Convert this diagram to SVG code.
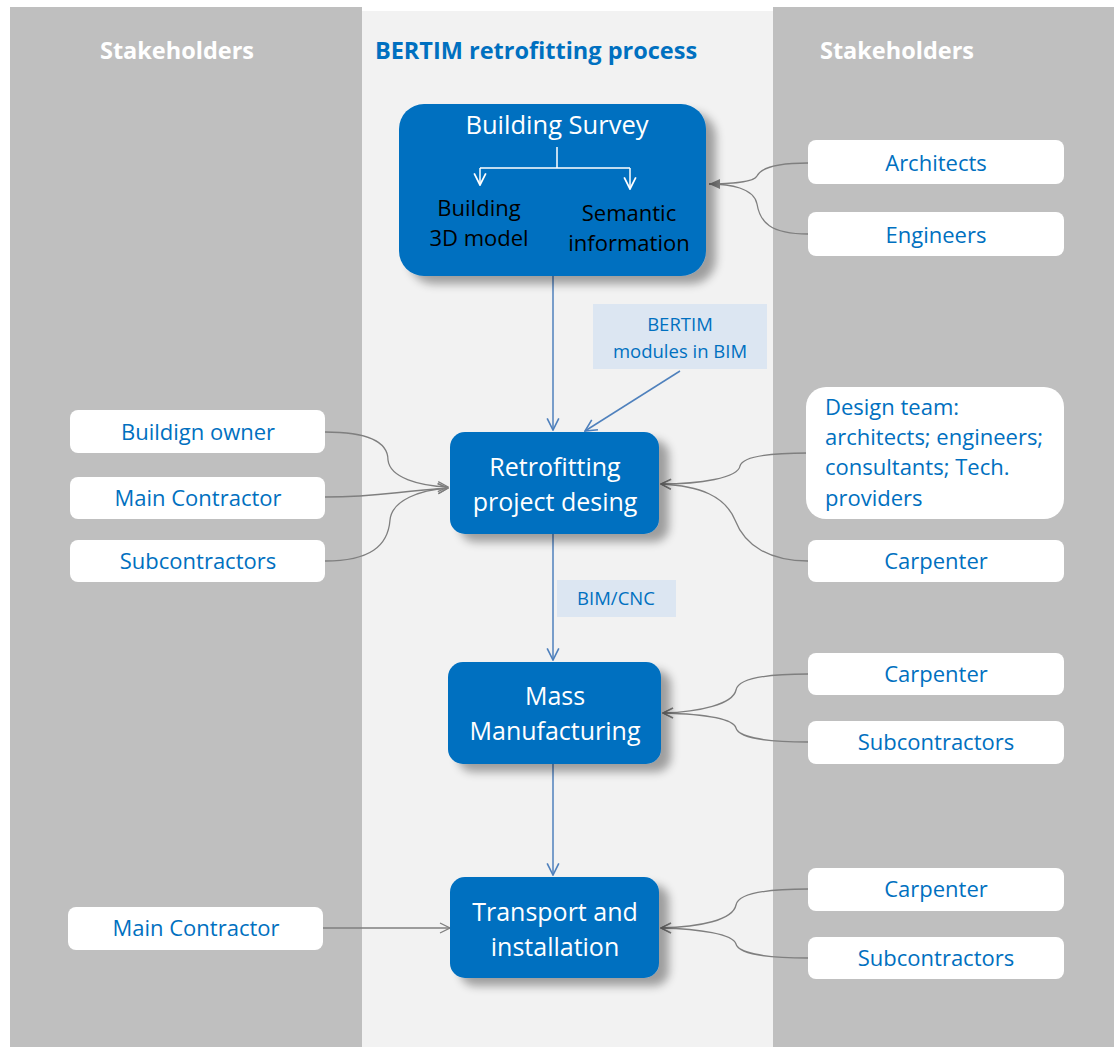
<svg xmlns="http://www.w3.org/2000/svg" width="1114" height="1047" viewBox="0 0 1114 1047">
<defs>
<style>
.col{fill:#bfbfbf}
.mid{fill:#f2f2f2}
.hd{font-family:"Open Sans","Liberation Sans",sans-serif;font-weight:bold;font-size:23.5px;text-anchor:middle}
.proc{fill:#0070c0}
.pt{font-family:"Open Sans","Liberation Sans",sans-serif;font-size:25px;fill:#fff;text-anchor:middle}
.sub{font-family:"Open Sans","Liberation Sans",sans-serif;font-size:22px;fill:#000;text-anchor:middle}
.st{fill:#fff}
.stt{font-family:"Open Sans","Liberation Sans",sans-serif;font-size:22px;fill:#0070c0;text-anchor:middle}
.lbl{fill:#dce6f2}
.lt{font-family:"Open Sans","Liberation Sans",sans-serif;font-size:18.5px;fill:#0070c0;text-anchor:middle}
.gc{fill:none;stroke:#7f7f7f;stroke-width:1.3}
.bc{fill:none;stroke:#4f81bd;stroke-width:1.5}
</style>
<marker id="ga" viewBox="0 0 12 12" refX="11" refY="6" markerWidth="12" markerHeight="12" markerUnits="userSpaceOnUse" orient="auto">
<path d="M1,1 L11,6 L1,11" fill="none" stroke="#7f7f7f" stroke-width="1.3"/>
</marker>
<marker id="gf" viewBox="0 0 12 12" refX="11" refY="6" markerWidth="12" markerHeight="12" markerUnits="userSpaceOnUse" orient="auto">
<path d="M0,1 L11,6 L0,11 Z" fill="#7f7f7f"/>
</marker>
<marker id="ba" viewBox="0 0 12 12" refX="11" refY="6" markerWidth="14" markerHeight="14" markerUnits="userSpaceOnUse" orient="auto">
<path d="M1,1 L11,6 L1,11" fill="none" stroke="#4f81bd" stroke-width="1.4"/>
</marker>
<marker id="wa" viewBox="0 0 12 12" refX="11" refY="6" markerWidth="14" markerHeight="14" markerUnits="userSpaceOnUse" orient="auto">
<path d="M1,1 L11,6 L1,11" fill="none" stroke="#fff" stroke-width="1.5"/>
</marker>
<filter id="sh" x="-20%" y="-20%" width="150%" height="160%">
<feGaussianBlur in="SourceAlpha" stdDeviation="5"/>
<feOffset dx="10" dy="8" result="b"/>
<feComponentTransfer><feFuncA type="linear" slope="0.35"/></feComponentTransfer>
<feMerge><feMergeNode/><feMergeNode in="SourceGraphic"/></feMerge>
</filter>
</defs>
<rect width="1114" height="1047" fill="#fff"/>
<g id="background">
<rect class="col" x="10" y="7" width="352" height="1040"/>
<rect class="mid" x="362" y="11" width="411" height="1036"/>
<rect class="col" x="773" y="7" width="341" height="1040"/>
<text class="hd" x="177" y="59" fill="#fff">Stakeholders</text>
<text class="hd" x="536" y="59" fill="#0070c0">BERTIM retrofitting process</text>
<text class="hd" x="897" y="59" fill="#fff">Stakeholders</text>
</g>
<g id="connectors">
<line class="bc" x1="553" y1="276" x2="553" y2="430" marker-end="url(#ba)"/>
<line class="bc" x1="680" y1="371" x2="585" y2="431" marker-end="url(#ba)"/>
<line class="bc" x1="553" y1="534" x2="553" y2="660" marker-end="url(#ba)"/>
<line class="bc" x1="553" y1="764" x2="553" y2="875" marker-end="url(#ba)"/>
<path class="gc" d="M808,163 C770,163 760,170 757,176 C754,182 730,184 709,184" marker-end="url(#gf)"/>
<path class="gc" d="M808,234 C770,234 760,222 757,204 C754,188 730,184 709,184"/>
<path class="gc" d="M325,432 C380,432 388,448 388,460 C390,478 420,486 448,487" marker-end="url(#ga)"/>
<path class="gc" d="M325,497 C380,497 390,492 448,488" marker-end="url(#ga)"/>
<path class="gc" d="M325,561 C370,561 388,546 390,520 C392,500 420,490 448,488" marker-end="url(#ga)"/>
<path class="gc" d="M808,453 C760,453 742,458 740,466 C738,478 700,484 661,484" marker-end="url(#ga)"/>
<path class="gc" d="M808,561 C770,561 745,546 735,520 C725,496 700,486 661,484" marker-end="url(#ga)"/>
<path class="gc" d="M808,674 C760,674 738,680 736,690 C733,704 700,712 663,713" marker-end="url(#ga)"/>
<path class="gc" d="M808,742 C760,742 738,736 736,728 C733,718 700,714 663,713" marker-end="url(#ga)"/>
<path class="gc" d="M808,889 C760,889 738,895 736,905 C733,920 700,927 661,928" marker-end="url(#ga)"/>
<path class="gc" d="M808,958 C760,958 738,952 736,944 C733,934 700,929 661,928" marker-end="url(#ga)"/>
<line class="gc" x1="323" y1="928" x2="450" y2="928" marker-end="url(#ga)"/>
</g>
<g id="building-survey">
<rect class="proc" x="399" y="104" width="307" height="172" rx="25" filter="url(#sh)"/>
<text class="pt" x="557" y="134" style="font-size:25.5px">Building Survey</text>
<path d="M557,147 V168 M480,168 H630" stroke="#fff" stroke-width="1.5" fill="none"/>
<line x1="480" y1="168" x2="480" y2="185" stroke="#fff" stroke-width="1.5" marker-end="url(#wa)"/>
<line x1="630" y1="168" x2="630" y2="189" stroke="#fff" stroke-width="1.5" marker-end="url(#wa)"/>
<text class="sub" x="479" y="216">Building</text>
<text class="sub" x="479" y="246">3D model</text>
<text class="sub" x="629" y="221">Semantic</text>
<text class="sub" x="629" y="251">information</text>
</g>
<g id="label-bertim">
<rect class="lbl" x="593" y="304" width="174" height="65"/>
<text class="lt" x="680" y="331">BERTIM</text>
<text class="lt" x="680" y="358">modules in BIM</text>
</g>
<g id="retrofitting">
<rect class="proc" x="450" y="432" width="209" height="102" rx="15" filter="url(#sh)"/>
<text class="pt" x="555" y="476">Retrofitting</text>
<text class="pt" x="555" y="511">project desing</text>
</g>
<g id="label-bimcnc">
<rect class="lbl" x="557" y="580" width="119" height="37"/>
<text class="lt" x="616" y="605">BIM/CNC</text>
</g>
<g id="mass-manufacturing">
<rect class="proc" x="448" y="662" width="213" height="102" rx="15" filter="url(#sh)"/>
<text class="pt" x="555" y="705">Mass</text>
<text class="pt" x="555" y="740">Manufacturing</text>
</g>
<g id="transport">
<rect class="proc" x="450" y="877" width="209" height="101" rx="15" filter="url(#sh)"/>
<text class="pt" x="555" y="921">Transport and</text>
<text class="pt" x="555" y="956">installation</text>
</g>
<g id="architects"><rect class="st" x="808" y="140" width="256" height="44" rx="8"/><text class="stt" x="936" y="171">Architects</text></g>
<g id="engineers"><rect class="st" x="808" y="212" width="256" height="44" rx="8"/><text class="stt" x="936" y="243">Engineers</text></g>
<g id="design-team"><rect class="st" x="806" y="387" width="258" height="132" rx="20"/>
<text class="stt" x="825" y="415" style="text-anchor:start">Design team:</text>
<text class="stt" x="825" y="445" style="text-anchor:start">architects; engineers;</text>
<text class="stt" x="825" y="475" style="text-anchor:start">consultants; Tech.</text>
<text class="stt" x="825" y="506" style="text-anchor:start">providers</text></g>
<g id="carpenter-1"><rect class="st" x="808" y="540" width="256" height="42" rx="8"/><text class="stt" x="936" y="569">Carpenter</text></g>
<g id="carpenter-2"><rect class="st" x="808" y="653" width="256" height="42" rx="8"/><text class="stt" x="936" y="682">Carpenter</text></g>
<g id="subcontractors-r1"><rect class="st" x="808" y="721" width="256" height="43" rx="8"/><text class="stt" x="936" y="750">Subcontractors</text></g>
<g id="carpenter-3"><rect class="st" x="808" y="868" width="256" height="43" rx="8"/><text class="stt" x="936" y="897">Carpenter</text></g>
<g id="subcontractors-r2"><rect class="st" x="808" y="937" width="256" height="42" rx="8"/><text class="stt" x="936" y="966">Subcontractors</text></g>
<g id="building-owner"><rect class="st" x="70" y="410" width="255" height="43" rx="8"/><text class="stt" x="198" y="440">Buildign owner</text></g>
<g id="main-contractor-1"><rect class="st" x="70" y="477" width="255" height="42" rx="8"/><text class="stt" x="198" y="506">Main Contractor</text></g>
<g id="subcontractors-l"><rect class="st" x="70" y="540" width="255" height="42" rx="8"/><text class="stt" x="198" y="569">Subcontractors</text></g>
<g id="main-contractor-2"><rect class="st" x="68" y="907" width="255" height="43" rx="8"/><text class="stt" x="196" y="936">Main Contractor</text></g>
</svg>
